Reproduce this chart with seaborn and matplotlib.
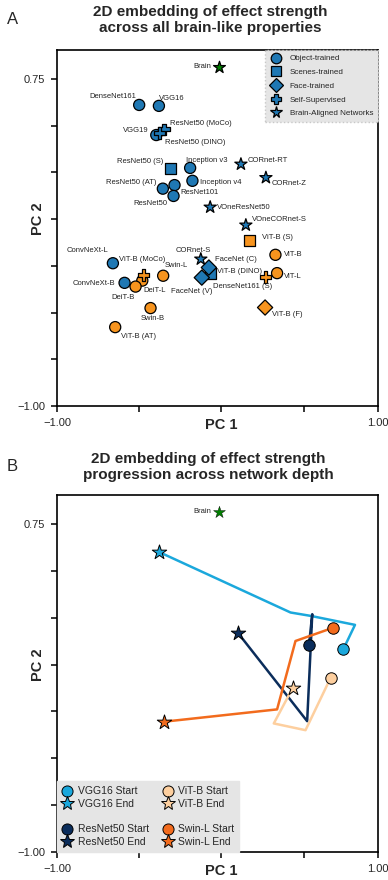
import numpy as np
import pandas as pd
import seaborn as sns
import matplotlib.pyplot as plt
from matplotlib.lines import Line2D

# ---- panel A data ----
names = ['Brain', 'DenseNet161', 'VGG16', 'VGG19', 'ResNet50 (MoCo)', 'ResNet50 (DINO)',
         'ResNet50 (S)', 'Inception v3', 'Inception v4', 'ResNet50 (AT)', 'ResNet101',
         'ResNet50', 'CORnet-RT', 'CORnet-Z', 'VOneResNet50', 'VOneCORnet-S', 'CORnet-S',
         'ViT-B (S)', 'ViT-B', 'ViT-L', 'ViT-B (DINO)', 'ViT-B (F)', 'FaceNet (C)',
         'FaceNet (V)', 'DenseNet161 (S)', 'ConvNeXt-L', 'ConvNeXt-B', 'ViT-B (MoCo)',
         'DeiT-L', 'DeiT-B', 'Swin-L', 'Swin-B', 'ViT-B (AT)']
pc1 = [-0.012, -0.50, -0.38, -0.396, -0.348, -0.376,
       -0.307, -0.19, -0.176, -0.356, -0.285,
       -0.291, 0.119, 0.271, -0.068, 0.149, -0.125,
       0.171, 0.329, 0.339, 0.268, 0.266, -0.076,
       -0.119, -0.068, -0.66, -0.589, -0.474,
       -0.481, -0.522, -0.354, -0.431, -0.646]
pc2 = [0.816, 0.611, 0.606, 0.45, 0.481, 0.46,
       0.272, 0.274, 0.205, 0.163, 0.182,
       0.124, 0.294, 0.222, 0.064, -0.032, -0.214,
       -0.116, -0.191, -0.289, -0.309, -0.473, -0.259,
       -0.313, -0.293, -0.236, -0.341, -0.30,
       -0.329, -0.361, -0.303, -0.476, -0.578]
arch = ['Brain'] + ['CNN'] * 16 + ['Transformer'] * 5 + ['CNN'] * 5 + ['Transformer'] * 6
training = ['Brain', 'Object-trained', 'Object-trained', 'Object-trained', 'Self-Supervised',
            'Self-Supervised', 'Scenes-trained', 'Object-trained', 'Object-trained',
            'Object-trained', 'Object-trained', 'Object-trained', 'Brain-Aligned Networks',
            'Brain-Aligned Networks', 'Brain-Aligned Networks', 'Brain-Aligned Networks',
            'Brain-Aligned Networks', 'Scenes-trained', 'Object-trained', 'Object-trained',
            'Self-Supervised', 'Face-trained', 'Face-trained', 'Face-trained',
            'Scenes-trained', 'Object-trained', 'Object-trained', 'Self-Supervised',
            'Object-trained', 'Object-trained', 'Object-trained', 'Object-trained',
            'Object-trained']

# ---- panel B data (start -> end of network depth) ----
depth_models = ['VGG16', 'ResNet50', 'ViT-B', 'Swin-L']
vgg16_pc1 = [0.742, 0.813, 0.543, 0.421, -0.382]
vgg16_pc2 = [0.082, 0.212, 0.26, 0.278, 0.602]
resnet50_pc1 = [0.533, 0.553, 0.522, 0.101]
resnet50_pc2 = [0.105, 0.269, -0.302, 0.169]
vitb_pc1 = [0.665, 0.512, 0.319, 0.435]
vitb_pc2 = [-0.07, -0.35, -0.314, -0.123]
swinl_pc1 = [0.681, 0.451, 0.339, -0.352]
swinl_pc2 = [0.197, 0.126, -0.239, -0.305]
brain_pc1 = [-0.012]
brain_pc2 = [0.816]

# label offsets in pixels (x, y up)
label_offsets = {
    'Brain': (-17, 0), 'DenseNet161': (-26, 8), 'VGG16': (13, 7), 'VGG19': (-20, 5),
    'ResNet50 (MoCo)': (37, 6), 'ResNet50 (DINO)': (36, -9), 'ResNet50 (S)': (-31, 7),
    'Inception v3': (17, 7), 'Inception v4': (28, -2), 'ResNet50 (AT)': (-32, 6),
    'ResNet101': (25, -7), 'ResNet50': (-23, -8), 'CORnet-RT': (27, 4), 'CORnet-Z': (23, -6),
    'VOneResNet50': (34, 0), 'VOneCORnet-S': (34, 6), 'ViT-B (S)': (28, 3), 'ViT-B': (18, 0),
    'ViT-L': (16, -3), 'CORnet-S': (-8, 9), 'FaceNet (C)': (27, 8), 'ViT-B (DINO)': (-26, 5),
    'DenseNet161 (S)': (32, -13), 'FaceNet (V)': (-10, -14), 'ViT-B (F)': (22, -7),
    'ConvNeXt-L': (-25, 13), 'ViT-B (MoCo)': (-1, 16), 'Swin-L': (13, 10),
    'ConvNeXt-B': (-31, -1), 'DeiT-L': (12, -10), 'DeiT-B': (-13, -11), 'Swin-B': (2, -10),
    'ViT-B (AT)': (23, -9)}

sns.set_style("ticks")
plt.rcParams['font.family'] = ['Liberation Sans', 'DejaVu Sans']

blue = '#1f78b4'
orange = '#f7941e'
arch_pal = {'CNN': blue, 'Transformer': orange, 'Brain': 'green'}
style_markers = {'Object-trained': 'o', 'Scenes-trained': 's', 'Face-trained': 'D',
                 'Self-Supervised': 'P', 'Brain-Aligned Networks': '*', 'Brain': '*'}
style_sizes = {'Object-trained': 64, 'Scenes-trained': 62, 'Face-trained': 60,
               'Self-Supervised': 68, 'Brain-Aligned Networks': 85, 'Brain': 80}

df = pd.DataFrame({'name': names, 'pc1': pc1, 'pc2': pc2, 'arch': arch, 'training': training})

fig = plt.figure(figsize=(3.88, 8.8), dpi=100)
axA = fig.add_axes([57 / 388, 1 - 406 / 880, 321 / 388, 356 / 880])
axB = fig.add_axes([57 / 388, 1 - 852 / 880, 321 / 388, 357 / 880])

XMAX = 0.953
YMAX = 0.905


def style_axes(ax):
    ax.set_xlim(-1, XMAX)
    ax.set_ylim(-1, YMAX)
    ax.set_xticks([-1, -0.5, 0, 0.5, XMAX])
    ax.set_xticklabels(['\u22121.00', '', 'PC 1', '', '1.00'])
    ax.set_yticks([-1, -0.75, -0.5, -0.25, 0, 0.25, 0.5, 0.75])
    ax.set_yticklabels(['\u22121.00', '', '', '', 'PC 2', '', '', '0.75'])
    ax.tick_params(direction='out', length=4.5, width=1.1, labelsize=8, pad=4, color='black')
    xl = ax.get_xticklabels()[2]
    xl.set_fontweight('bold')
    xl.set_fontsize(10.5)
    yl = ax.get_yticklabels()[4]
    yl.set_fontweight('bold')
    yl.set_fontsize(10.5)
    yl.set_rotation(90)
    yl.set_va('center')
    for sp in ax.spines.values():
        sp.set_linewidth(1.2)
        sp.set_color('black')
    ax.set_xlabel('')
    ax.set_ylabel('')


# ---- Panel A ----
for tr in ['Brain', 'Object-trained', 'Scenes-trained', 'Face-trained', 'Self-Supervised',
           'Brain-Aligned Networks']:
    sub = df[df['training'] == tr]
    sns.scatterplot(data=sub, x='pc1', y='pc2', hue='arch', palette=arch_pal,
                    marker=style_markers[tr], s=style_sizes[tr], edgecolor='black',
                    linewidth=0.9, legend=False, ax=axA, zorder=3)

for n, x, y in zip(names, pc1, pc2):
    axA.annotate(n, (x, y), xytext=label_offsets[n], textcoords='offset pixels',
                 ha='center', va='center', fontsize=5.5, color='#222222', zorder=4)

handles = [Line2D([], [], linestyle='none', marker=style_markers[t], markerfacecolor=blue,
                  markeredgecolor='black', markeredgewidth=0.9,
                  markersize=(8.5 if t == 'Brain-Aligned Networks' else 7.6))
           for t in ['Object-trained', 'Scenes-trained', 'Face-trained', 'Self-Supervised',
                     'Brain-Aligned Networks']]
legA = axA.legend(handles, ['Object-trained', 'Scenes-trained', 'Face-trained',
                            'Self-Supervised', 'Brain-Aligned Networks'],
                  loc='upper right', borderaxespad=0, fontsize=5.8, labelspacing=0.75,
                  handlelength=1.5, handletextpad=1.0, fancybox=False, framealpha=1,
                  facecolor='#e5e5e5', edgecolor='#c8c8c8', borderpad=0.6)
legA.get_frame().set_linestyle(':')
style_axes(axA)

# ---- Panel B ----
depth_colors = {'VGG16': '#1ba8dc', 'ResNet50': '#0b2d5b', 'ViT-B': '#fdcf9f', 'Swin-L': '#f26b1d'}
paths = {'VGG16': (vgg16_pc1, vgg16_pc2), 'ResNet50': (resnet50_pc1, resnet50_pc2),
         'ViT-B': (vitb_pc1, vitb_pc2), 'Swin-L': (swinl_pc1, swinl_pc2)}

for m in depth_models:
    xs, ys = paths[m]
    d = pd.DataFrame({'pc1': xs, 'pc2': ys})
    sns.lineplot(data=d, x='pc1', y='pc2', sort=False, color=depth_colors[m], lw=1.8,
                 ax=axB, zorder=2)
for m in depth_models:
    xs, ys = paths[m]
    sns.scatterplot(x=[xs[0]], y=[ys[0]], marker='o', s=68, color=depth_colors[m],
                    edgecolor='black', linewidth=0.7, ax=axB, zorder=3, legend=False)
    sns.scatterplot(x=[xs[-1]], y=[ys[-1]], marker='*', s=120, color=depth_colors[m],
                    edgecolor='black', linewidth=0.7, ax=axB, zorder=3, legend=False)

sns.scatterplot(x=brain_pc1, y=brain_pc2, marker='*', s=80, color='green',
                edgecolor='black', linewidth=0.3, ax=axB, zorder=3, legend=False)
axB.annotate('Brain', (brain_pc1[0], brain_pc2[0]), xytext=(-17, 0), textcoords='offset pixels',
             ha='center', va='center', fontsize=5.5, color='#222222')

# legend: blank entry between the two model groups of each column
hB, lB = [], []
for i, m in enumerate(depth_models):
    if i == 1 or i == 3:
        hB.append(Line2D([], [], linestyle='none'))
        lB.append('')
    hB.append(Line2D([], [], linestyle='none', marker='o', markerfacecolor=depth_colors[m],
                     markeredgecolor='black', markeredgewidth=0.7, markersize=8))
    lB.append(m + ' Start')
    hB.append(Line2D([], [], linestyle='none', marker='*', markerfacecolor=depth_colors[m],
                     markeredgecolor='black', markeredgewidth=0.7, markersize=10))
    lB.append(m + ' End')
legB = axB.legend(hB, lB, ncol=2, loc='lower left', borderaxespad=0, fontsize=7.5,
                  labelspacing=0.25, handlelength=1.0, handletextpad=0.5, columnspacing=1.3,
                  fancybox=False, framealpha=1, facecolor='#e5e5e5', edgecolor='#e5e5e5',
                  borderpad=0.5)
style_axes(axB)

# ---- titles & panel letters ----
fig.text(0.542, 1 - 20 / 880, '2D embedding of effect strength\nacross all brain-like properties',
         ha='center', va='center', fontsize=11, fontweight='bold', linespacing=1.1)
fig.text(0.537, 1 - 467 / 880, '2D embedding of effect strength\nprogression across network depth',
         ha='center', va='center', fontsize=11, fontweight='bold', linespacing=1.1)
fig.text(0.018, 1 - 19 / 880, 'A', fontsize=12, va='center')
fig.text(0.018, 1 - 466 / 880, 'B', fontsize=12, va='center')

fig.savefig('out.png', dpi=100)
